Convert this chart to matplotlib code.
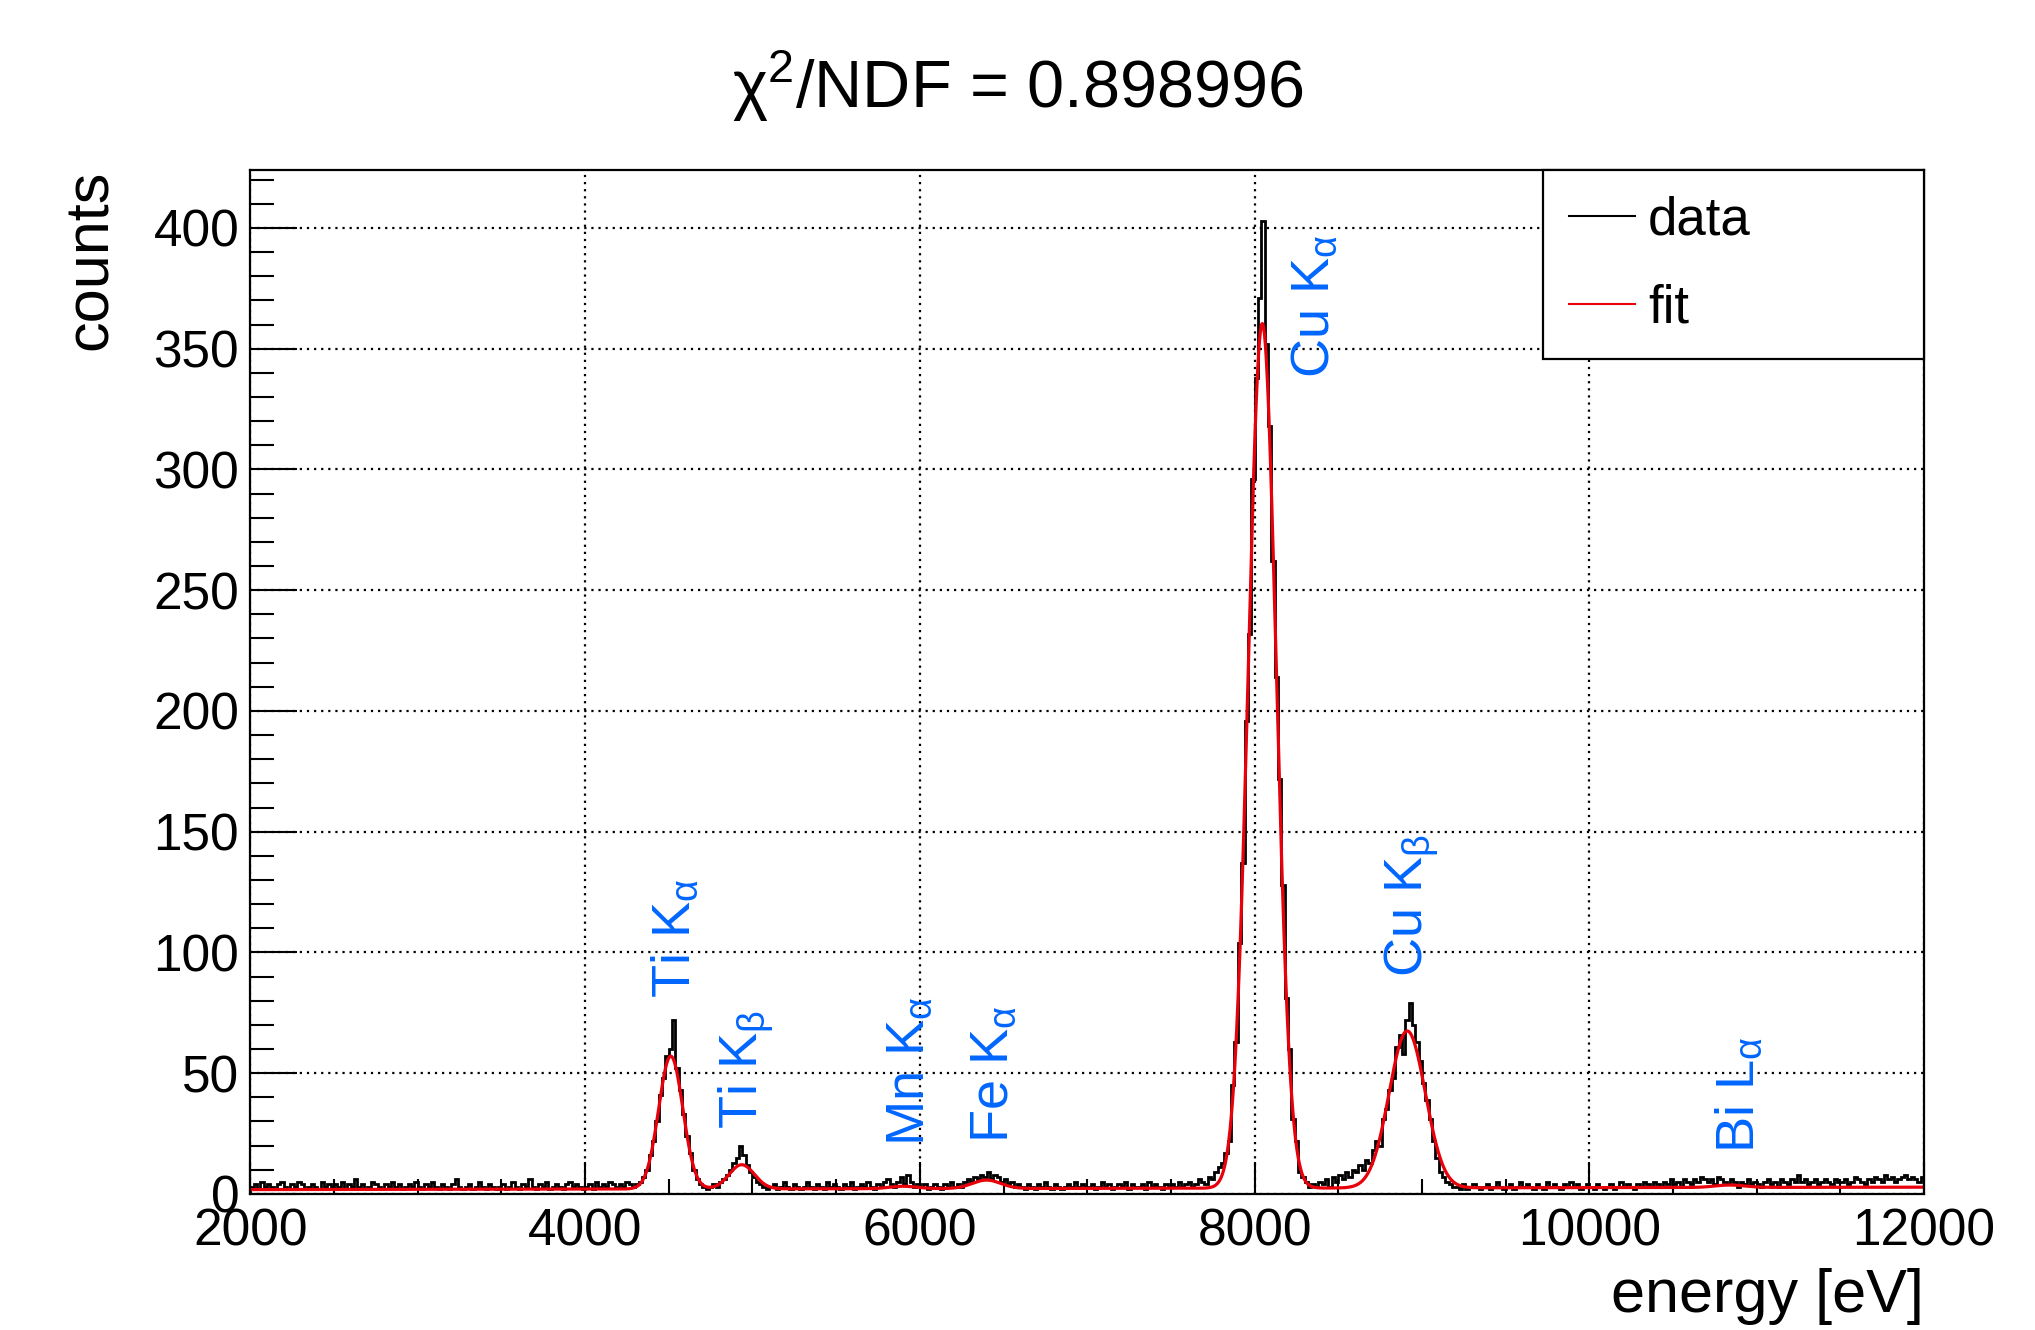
"""X-ray spectrum with multi-peak fit (ROOT-style look)."""
import numpy as np
import matplotlib
matplotlib.use("Agg")
import matplotlib.pyplot as plt
from matplotlib.ticker import MultipleLocator

plt.rcParams["font.family"] = ["Liberation Sans", "DejaVu Sans"]
plt.rcParams["mathtext.fontset"] = "custom"
plt.rcParams["mathtext.rm"] = "Liberation Sans"
plt.rcParams["mathtext.it"] = "Liberation Sans:italic"
plt.rcParams["mathtext.bf"] = "Liberation Sans:bold"

# histogram: 20 eV bins from 2000 to 12000 eV, one row = 500 eV
e_lo, e_hi, e_step = 2000, 12000, 20
counts = [
    3, 4, 2, 5, 3, 4, 3, 2, 4, 5, 3, 2, 4, 3, 5, 4, 2, 3, 4, 3, 2, 5, 3, 4, 3,
    4, 3, 5, 2, 4, 3, 6, 3, 4, 2, 3, 5, 4, 3, 2, 4, 3, 5, 3, 4, 2, 3, 4, 3, 5,
    3, 2, 4, 3, 5, 3, 2, 4, 3, 2, 4, 6, 3, 2, 3, 4, 2, 3, 5, 3, 2, 4, 3, 2, 3,
    4, 2, 3, 5, 3, 2, 4, 3, 6, 3, 2, 4, 3, 5, 2, 3, 4, 3, 2, 4, 5, 3, 4, 3, 2,
    3, 4, 2, 5, 3, 4, 3, 5, 4, 3, 4, 3, 5, 4, 3, 4, 5, 7, 10, 16, 22, 30, 41, 48, 57,
    60, 72, 52, 43, 33, 24, 17, 10, 6, 4, 3, 2, 3, 4, 3, 5, 6, 8, 10, 13, 15, 20, 16, 12, 9,
    7, 5, 4, 3, 2, 3, 4, 2, 3, 5, 3, 2, 4, 3, 2, 3, 5, 3, 2, 4, 3, 2, 5, 3, 4,
    3, 2, 4, 3, 5, 2, 3, 4, 3, 5, 3, 2, 4, 3, 5, 6, 4, 3, 5, 7, 4, 8, 5, 3, 4,
    3, 4, 2, 3, 4, 3, 2, 4, 3, 5, 3, 4, 3, 5, 6, 5, 7, 6, 8, 7, 9, 6, 8, 7, 5,
    6, 4, 5, 3, 4, 3, 2, 4, 3, 2, 4, 3, 5, 3, 2, 4, 3, 2, 3, 4, 3, 5, 3, 4, 3,
    3, 4, 2, 3, 5, 3, 4, 2, 3, 4, 3, 5, 2, 4, 3, 3, 4, 2, 5, 3, 4, 3, 2, 4, 3,
    4, 3, 5, 3, 4, 5, 3, 4, 6, 5, 4, 7, 6, 9, 11, 13, 17, 22, 45, 63, 104, 137, 196, 232, 296,
    338, 371, 403, 352, 318, 262, 214, 172, 128, 81, 60, 31, 22, 9, 7, 5, 3, 4, 3, 5, 4, 6, 3, 7, 5,
    8, 6, 9, 7, 10, 9, 12, 10, 14, 13, 18, 22, 20, 31, 35, 43, 48, 61, 66, 58, 72, 79, 70, 63, 55,
    46, 39, 31, 22, 15, 9, 7, 5, 4, 3, 3, 2, 4, 2, 3, 4, 3, 2, 3, 4, 2, 3, 5, 3, 2,
    3, 4, 2, 3, 5, 3, 4, 3, 2, 4, 3, 2, 5, 3, 4, 3, 2, 4, 3, 5, 3, 4, 2, 3, 4,
    3, 2, 4, 3, 2, 3, 4, 2, 3, 5, 3, 4, 3, 2, 4, 3, 5, 4, 3, 5, 4, 3, 5, 4, 6,
    4, 5, 3, 6, 5, 4, 6, 5, 7, 6, 5, 6, 4, 7, 6, 5, 4, 6, 5, 3, 5, 4, 6, 4, 5,
    4, 3, 5, 6, 4, 5, 3, 6, 5, 4, 6, 5, 8, 5, 6, 4, 5, 6, 4, 5, 6, 5, 4, 6, 5,
    5, 6, 4, 5, 7, 6, 5, 4, 6, 5, 7, 6, 5, 8, 6, 7, 5, 6, 7, 8, 6, 7, 6, 5, 7,
]

# fit result: linear background + gaussian lines
peak_centers = [4512, 4936, 5899, 6398, 8046, 8912, 10839]
peak_amps = [55, 10, 1.0, 3.5, 358, 65, 1.0]
peak_sigmas = [72, 75, 80, 85, 83, 108, 90]
bg_start, bg_end = 1.8, 2.8

line_labels = [r"Ti K$_{\mathrm{\alpha}}$", r"Ti K$_{\mathrm{\beta}}$",
               r"Mn K$_{\mathrm{\alpha}}$", r"Fe K$_{\mathrm{\alpha}}$",
               r"Cu K$_{\mathrm{\alpha}}$", r"Cu K$_{\mathrm{\beta}}$",
               r"Bi L$_{\mathrm{\alpha}}$"]
label_x = [4537, 4962, 5936, 6438, 8357, 8936, 10897]
label_y = [81, 27, 20, 21, 338, 90, 17]

edges = np.arange(e_lo, e_hi + e_step, e_step)
e = np.linspace(e_lo, e_hi, 4001)
fit = bg_start + (bg_end - bg_start) * (e - e_lo) / (e_hi - e_lo)
for c, a, s in zip(peak_centers, peak_amps, peak_sigmas):
    fit = fit + a * np.exp(-0.5 * ((e - c) / s) ** 2)

fig = plt.figure(figsize=(20.35, 13.3), dpi=100)
ax = fig.add_axes([0.1230, 0.1023, 0.8225, 0.7699])

h_data = ax.stairs(counts, edges, color="black", lw=2.0, label="data")
h_fit, = ax.plot(e, fit, color="#e8000b", lw=2.3, label="fit")

blue = "#0066ff"
for txt, x, y in zip(line_labels, label_x, label_y):
    ax.text(x, y, txt, rotation=90, ha="center", va="bottom", color=blue, fontsize=39)

ax.set_xlim(e_lo, e_hi)
ax.set_ylim(0, 424)
ax.xaxis.set_major_locator(MultipleLocator(2000))
ax.xaxis.set_minor_locator(MultipleLocator(500))
ax.yaxis.set_major_locator(MultipleLocator(50))
ax.yaxis.set_minor_locator(MultipleLocator(10))
ax.tick_params(axis="x", which="major", direction="in", length=23, width=1.5, labelsize=37, pad=10)
ax.tick_params(axis="x", which="minor", direction="in", length=11, width=1.5)
ax.tick_params(axis="y", which="major", direction="in", length=34, width=1.5, labelsize=37, pad=8)
ax.tick_params(axis="y", which="minor", direction="in", length=17, width=1.5)
ax.grid(True, which="major", color="black", ls=(0, (1, 2.2)), lw=1.6)
for sp in ax.spines.values():
    sp.set_linewidth(1.6)

ax.set_xlabel("energy [eV]", fontsize=44, loc="right")
ax.xaxis.set_label_coords(1.0, -0.072)
ax.set_ylabel("counts", fontsize=44, loc="top")
ax.yaxis.set_label_coords(-0.078, 1.0)

fig.text(0.5, 0.935, r"$\mathrm{\chi}^{2}$/NDF = 0.898996", ha="center", va="center", fontsize=48)

leg = ax.legend(handles=[h_data, h_fit], labels=["data", "fit"], fontsize=38,
                loc="upper left", bbox_to_anchor=(0.7726, 0.0, 0.2274, 1.0), mode="expand",
                borderaxespad=0, fancybox=False, framealpha=1, edgecolor="black",
                handlelength=1.25, handletextpad=0.25, borderpad=0.48, labelspacing=0.72)
leg.get_frame().set_linewidth(1.6)
for lh in leg.get_lines():
    lh.set_linewidth(1.5)

fig.savefig("out.png", dpi=100)
